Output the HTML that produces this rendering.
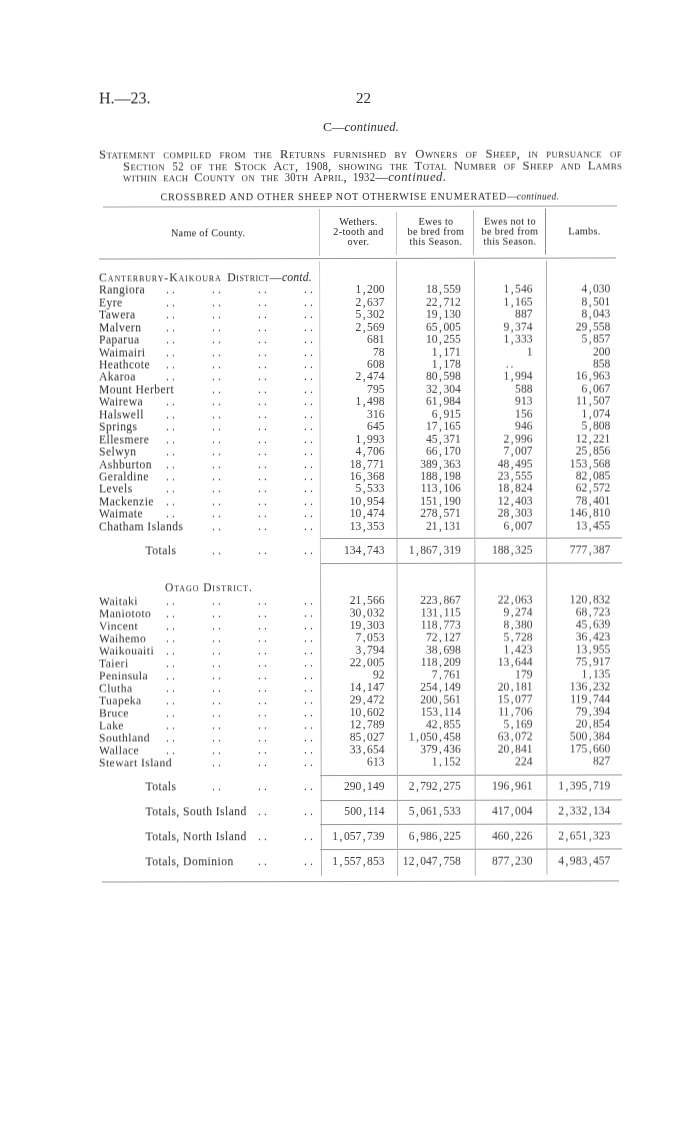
<!DOCTYPE html>
<html><head><meta charset="utf-8"><title>H.-23</title>
<style>
html,body{margin:0;padding:0;background:#fff;}
body{will-change:transform;width:700px;height:1131px;position:relative;overflow:hidden;font-family:"Liberation Serif",serif;color:#2c2c2c;}
#pg{position:absolute;left:0;top:0;width:700px;height:1131px;transform:skewY(-0.12deg);filter:blur(0.3px);transform-origin:350px 565px;}
.a{position:absolute;white-space:nowrap;}
.r{position:absolute;left:0;top:0;transform-origin:350px 7px;width:700px;height:14px;line-height:14px;font-size:11.6px;white-space:nowrap;}
.r span{position:absolute;top:0;}
.n{letter-spacing:0.45px;}
.d{letter-spacing:3.1px;color:#333;}
.v{letter-spacing:0;color:#3c3c3c;transform:scaleY(1.05);transform-origin:100% 10.9px;}
.v i{font-style:normal;display:inline-block;width:5.8px;text-align:center;}
.dd{position:static !important;letter-spacing:2px;margin-right:17px;}
.hl{position:absolute;height:1px;background:#969696;}
.vl{position:absolute;width:1px;background:#b2b2b2;}
.sc{font-variant:small-caps;}
.dg{display:inline-block;transform:scaleX(0.84);transform-origin:0 50%;}
.h{color:#1c1c1c;position:absolute;font-size:10.3px;line-height:10.3px;text-align:center;letter-spacing:0.3px;}
</style></head><body>
<div id="pg">
<div class="a" style="left:99px;top:88px;font-size:16px;line-height:20px;">H.—23.</div>
<div class="a" style="left:356px;top:88px;font-size:15px;line-height:20px;">22</div>
<div class="a" style="left:323px;top:119px;font-size:12.5px;line-height:16px;"><span style="font-size:13.5px">C</span>—<em style="letter-spacing:0.22px">continued.</em></div>
<div class="a sc st" style="left:99px;top:146.7px;width:475.5px;transform:scaleX(1.1);transform-origin:0 0;font-size:11.5px;line-height:14px;text-align:justify;text-align-last:justify;white-space:normal;letter-spacing:0.36px;">Statement compiled from the Returns furnished by Owners of Sheep, in pursuance of</div>
<div class="a sc st" style="left:122.8px;top:158.6px;width:453.9px;transform:scaleX(1.1);transform-origin:0 0;font-size:11.5px;line-height:14px;text-align:justify;text-align-last:justify;white-space:normal;letter-spacing:0.36px;">Section <span class="dg" style="margin-right:-1.95px">52</span> of the Stock Act, <span class="dg" style="margin-right:-3.9px">1908</span>, showing the Total Number of Sheep and Lambs</div>
<div class="a sc st" style="left:123px;top:170px;transform:scaleX(1.1);transform-origin:0 0;font-size:11.5px;line-height:14px;letter-spacing:0.3px;word-spacing:2.2px;">within each County on the <span class="dg" style="margin-right:-1.95px">30</span>th April, <span class="dg" style="margin-right:-3.9px">1932</span>—<em style="font-variant:normal;letter-spacing:0.5px">continued.</em></div>
<div class="a" style="left:160.5px;top:190px;font-size:10.2px;line-height:13px;letter-spacing:0.75px;">CROSSBRED AND OTHER SHEEP NOT OTHERWISE ENUMERATED—<em style="font-size:9.4px;letter-spacing:0.3px;margin-left:-1.2px">continued.</em></div>

<div class="hl" style="left:103px;top:206.4px;width:514px;background:#a2a2a2"></div>
<div class="hl" style="left:99px;top:258.4px;width:517px;"></div>
<div class="hl" style="left:320px;top:538.4px;width:302px;"></div>
<div class="hl" style="left:320px;top:563.4px;width:302px;"></div>
<div class="hl" style="left:320px;top:774.5px;width:302px;"></div>
<div class="hl" style="left:320px;top:799.5px;width:302px;"></div>
<div class="hl" style="left:320px;top:824.4px;width:302px;"></div>
<div class="hl" style="left:320px;top:849.4px;width:302px;"></div>
<div class="hl" style="left:102px;top:881.4px;width:517px;"></div>

<div class="vl" style="left:319.4px;top:209px;height:47px;background:#c4c4c4"></div>
<div class="vl" style="left:396px;top:212px;height:43px;background:#c4c4c4"></div>
<div class="vl" style="left:473.1px;top:210px;height:45px;background:#b4b4b4"></div>
<div class="vl" style="left:545px;top:209px;height:46px;background:#8e8e8e"></div>
<div class="vl" style="left:319px;top:261px;height:615px;transform:rotate(-0.19deg);transform-origin:0 0;background:linear-gradient(#cdcdcd 0,#c6c6c6 45%,#aaa 55%,#b0b0b0 100%)"></div>
<div class="vl" style="left:395.9px;top:261px;height:615px;transform:rotate(-0.1deg);transform-origin:0 0;"></div>
<div class="vl" style="left:473.8px;top:261px;height:615px;transform:rotate(-0.07deg);transform-origin:0 0;"></div>
<div class="vl" style="left:546.3px;top:261px;height:614px;transform:rotate(-0.04deg);transform-origin:0 0;"></div>

<div class="h" style="left:97.6px;width:221px;top:228px;letter-spacing:0.25px">Name of County.</div>
<div class="h" style="left:321px;width:75px;top:216.5px;">Wethers.<br>2-tooth and<br>over.</div>
<div class="h" style="left:398px;width:76px;top:216.5px;">Ewes to<br>be bred from<br>this Season.</div>
<div class="h" style="left:474px;width:72px;top:216.5px;">Ewes not to<br>be bred from<br>this Season.</div>
<div class="h" style="left:549px;width:71px;top:227px;">Lambs.</div>

<div class="a sc" style="left:99px;top:270.1px;font-size:11.8px;line-height:14px;letter-spacing:0.9px;">Canterbury-Kaikoura<span style="letter-spacing:0.45px;margin-left:5.6px">District—</span><em style="font-variant:normal;letter-spacing:0.1px">contd.</em></div>
<div class="a sc" style="left:165px;top:580.3px;font-size:11.5px;line-height:14px;letter-spacing:0.9px;">Otago District.</div>
<div class="r" style="transform:translateY(283.40px)"><span class="n" style="left:99px">Rangiora</span>
<span class="d" style="left:166px">..</span>
<span class="d" style="left:212px">..</span>
<span class="d" style="left:258px">..</span>
<span class="d" style="left:304px">..</span>
<span class="v" style="right:315.5px">1<i>,</i>200</span>
<span class="v" style="right:239.2px">18<i>,</i>559</span>
<span class="v" style="right:167.5px">1<i>,</i>546</span>
<span class="v" style="right:89.6px">4<i>,</i>030</span>
</div>
<div class="r" style="transform:translateY(295.84px)"><span class="n" style="left:99px">Eyre</span>
<span class="d" style="left:166px">..</span>
<span class="d" style="left:212px">..</span>
<span class="d" style="left:258px">..</span>
<span class="d" style="left:304px">..</span>
<span class="v" style="right:315.5px">2<i>,</i>637</span>
<span class="v" style="right:239.2px">22<i>,</i>712</span>
<span class="v" style="right:167.5px">1<i>,</i>165</span>
<span class="v" style="right:89.6px">8<i>,</i>501</span>
</div>
<div class="r" style="transform:translateY(308.28px)"><span class="n" style="left:99px">Tawera</span>
<span class="d" style="left:166px">..</span>
<span class="d" style="left:212px">..</span>
<span class="d" style="left:258px">..</span>
<span class="d" style="left:304px">..</span>
<span class="v" style="right:315.5px">5<i>,</i>302</span>
<span class="v" style="right:239.2px">19<i>,</i>130</span>
<span class="v" style="right:167.5px">887</span>
<span class="v" style="right:89.6px">8<i>,</i>043</span>
</div>
<div class="r" style="transform:translateY(320.72px)"><span class="n" style="left:99px">Malvern</span>
<span class="d" style="left:166px">..</span>
<span class="d" style="left:212px">..</span>
<span class="d" style="left:258px">..</span>
<span class="d" style="left:304px">..</span>
<span class="v" style="right:315.5px">2<i>,</i>569</span>
<span class="v" style="right:239.2px">65<i>,</i>005</span>
<span class="v" style="right:167.5px">9<i>,</i>374</span>
<span class="v" style="right:89.6px">29<i>,</i>558</span>
</div>
<div class="r" style="transform:translateY(333.16px)"><span class="n" style="left:99px">Paparua</span>
<span class="d" style="left:166px">..</span>
<span class="d" style="left:212px">..</span>
<span class="d" style="left:258px">..</span>
<span class="d" style="left:304px">..</span>
<span class="v" style="right:315.5px">681</span>
<span class="v" style="right:239.2px">10<i>,</i>255</span>
<span class="v" style="right:167.5px">1<i>,</i>333</span>
<span class="v" style="right:89.6px">5<i>,</i>857</span>
</div>
<div class="r" style="transform:translateY(345.60px)"><span class="n" style="left:99px">Waimairi</span>
<span class="d" style="left:166px">..</span>
<span class="d" style="left:212px">..</span>
<span class="d" style="left:258px">..</span>
<span class="d" style="left:304px">..</span>
<span class="v" style="right:315.5px">78</span>
<span class="v" style="right:239.2px">1<i>,</i>171</span>
<span class="v" style="right:167.5px">1</span>
<span class="v" style="right:89.6px">200</span>
</div>
<div class="r" style="transform:translateY(358.04px)"><span class="n" style="left:99px">Heathcote</span>
<span class="d" style="left:166px">..</span>
<span class="d" style="left:212px">..</span>
<span class="d" style="left:258px">..</span>
<span class="d" style="left:304px">..</span>
<span class="v" style="right:315.5px">608</span>
<span class="v" style="right:239.2px">1<i>,</i>178</span>
<span class="v" style="right:167.5px"><span class="dd">..</span></span>
<span class="v" style="right:89.6px">858</span>
</div>
<div class="r" style="transform:translateY(370.48px)"><span class="n" style="left:99px">Akaroa</span>
<span class="d" style="left:166px">..</span>
<span class="d" style="left:212px">..</span>
<span class="d" style="left:258px">..</span>
<span class="d" style="left:304px">..</span>
<span class="v" style="right:315.5px">2<i>,</i>474</span>
<span class="v" style="right:239.2px">80<i>,</i>598</span>
<span class="v" style="right:167.5px">1<i>,</i>994</span>
<span class="v" style="right:89.6px">16<i>,</i>963</span>
</div>
<div class="r" style="transform:translateY(382.92px)"><span class="n" style="left:99px">Mount Herbert</span>
<span class="d" style="left:212px">..</span>
<span class="d" style="left:258px">..</span>
<span class="d" style="left:304px">..</span>
<span class="v" style="right:315.5px">795</span>
<span class="v" style="right:239.2px">32<i>,</i>304</span>
<span class="v" style="right:167.5px">588</span>
<span class="v" style="right:89.6px">6<i>,</i>067</span>
</div>
<div class="r" style="transform:translateY(395.36px)"><span class="n" style="left:99px">Wairewa</span>
<span class="d" style="left:166px">..</span>
<span class="d" style="left:212px">..</span>
<span class="d" style="left:258px">..</span>
<span class="d" style="left:304px">..</span>
<span class="v" style="right:315.5px">1<i>,</i>498</span>
<span class="v" style="right:239.2px">61<i>,</i>984</span>
<span class="v" style="right:167.5px">913</span>
<span class="v" style="right:89.6px">11<i>,</i>507</span>
</div>
<div class="r" style="transform:translateY(407.80px)"><span class="n" style="left:99px">Halswell</span>
<span class="d" style="left:166px">..</span>
<span class="d" style="left:212px">..</span>
<span class="d" style="left:258px">..</span>
<span class="d" style="left:304px">..</span>
<span class="v" style="right:315.5px">316</span>
<span class="v" style="right:239.2px">6<i>,</i>915</span>
<span class="v" style="right:167.5px">156</span>
<span class="v" style="right:89.6px">1<i>,</i>074</span>
</div>
<div class="r" style="transform:translateY(420.24px)"><span class="n" style="left:99px">Springs</span>
<span class="d" style="left:166px">..</span>
<span class="d" style="left:212px">..</span>
<span class="d" style="left:258px">..</span>
<span class="d" style="left:304px">..</span>
<span class="v" style="right:315.5px">645</span>
<span class="v" style="right:239.2px">17<i>,</i>165</span>
<span class="v" style="right:167.5px">946</span>
<span class="v" style="right:89.6px">5<i>,</i>808</span>
</div>
<div class="r" style="transform:translateY(432.68px)"><span class="n" style="left:99px">Ellesmere</span>
<span class="d" style="left:166px">..</span>
<span class="d" style="left:212px">..</span>
<span class="d" style="left:258px">..</span>
<span class="d" style="left:304px">..</span>
<span class="v" style="right:315.5px">1<i>,</i>993</span>
<span class="v" style="right:239.2px">45<i>,</i>371</span>
<span class="v" style="right:167.5px">2<i>,</i>996</span>
<span class="v" style="right:89.6px">12<i>,</i>221</span>
</div>
<div class="r" style="transform:translateY(445.12px)"><span class="n" style="left:99px">Selwyn</span>
<span class="d" style="left:166px">..</span>
<span class="d" style="left:212px">..</span>
<span class="d" style="left:258px">..</span>
<span class="d" style="left:304px">..</span>
<span class="v" style="right:315.5px">4<i>,</i>706</span>
<span class="v" style="right:239.2px">66<i>,</i>170</span>
<span class="v" style="right:167.5px">7<i>,</i>007</span>
<span class="v" style="right:89.6px">25<i>,</i>856</span>
</div>
<div class="r" style="transform:translateY(457.56px)"><span class="n" style="left:99px">Ashburton</span>
<span class="d" style="left:166px">..</span>
<span class="d" style="left:212px">..</span>
<span class="d" style="left:258px">..</span>
<span class="d" style="left:304px">..</span>
<span class="v" style="right:315.5px">18<i>,</i>771</span>
<span class="v" style="right:239.2px">389<i>,</i>363</span>
<span class="v" style="right:167.5px">48<i>,</i>495</span>
<span class="v" style="right:89.6px">153<i>,</i>568</span>
</div>
<div class="r" style="transform:translateY(470.00px)"><span class="n" style="left:99px">Geraldine</span>
<span class="d" style="left:166px">..</span>
<span class="d" style="left:212px">..</span>
<span class="d" style="left:258px">..</span>
<span class="d" style="left:304px">..</span>
<span class="v" style="right:315.5px">16<i>,</i>368</span>
<span class="v" style="right:239.2px">188<i>,</i>198</span>
<span class="v" style="right:167.5px">23<i>,</i>555</span>
<span class="v" style="right:89.6px">82<i>,</i>085</span>
</div>
<div class="r" style="transform:translateY(482.44px)"><span class="n" style="left:99px">Levels</span>
<span class="d" style="left:166px">..</span>
<span class="d" style="left:212px">..</span>
<span class="d" style="left:258px">..</span>
<span class="d" style="left:304px">..</span>
<span class="v" style="right:315.5px">5<i>,</i>533</span>
<span class="v" style="right:239.2px">113<i>,</i>106</span>
<span class="v" style="right:167.5px">18<i>,</i>824</span>
<span class="v" style="right:89.6px">62<i>,</i>572</span>
</div>
<div class="r" style="transform:translateY(494.88px)"><span class="n" style="left:99px">Mackenzie</span>
<span class="d" style="left:166px">..</span>
<span class="d" style="left:212px">..</span>
<span class="d" style="left:258px">..</span>
<span class="d" style="left:304px">..</span>
<span class="v" style="right:315.5px">10<i>,</i>954</span>
<span class="v" style="right:239.2px">151<i>,</i>190</span>
<span class="v" style="right:167.5px">12<i>,</i>403</span>
<span class="v" style="right:89.6px">78<i>,</i>401</span>
</div>
<div class="r" style="transform:translateY(507.32px)"><span class="n" style="left:99px">Waimate</span>
<span class="d" style="left:166px">..</span>
<span class="d" style="left:212px">..</span>
<span class="d" style="left:258px">..</span>
<span class="d" style="left:304px">..</span>
<span class="v" style="right:315.5px">10<i>,</i>474</span>
<span class="v" style="right:239.2px">278<i>,</i>571</span>
<span class="v" style="right:167.5px">28<i>,</i>303</span>
<span class="v" style="right:89.6px">146<i>,</i>810</span>
</div>
<div class="r" style="transform:translateY(519.76px)"><span class="n" style="left:99px">Chatham Islands</span>
<span class="d" style="left:212px">..</span>
<span class="d" style="left:258px">..</span>
<span class="d" style="left:304px">..</span>
<span class="v" style="right:315.5px">13<i>,</i>353</span>
<span class="v" style="right:239.2px">21<i>,</i>131</span>
<span class="v" style="right:167.5px">6<i>,</i>007</span>
<span class="v" style="right:89.6px">13<i>,</i>455</span>
</div>
<div class="r" style="transform:translateY(594.10px) skewY(-0.07deg)"><span class="n" style="left:99px">Waitaki</span>
<span class="d" style="left:166px">..</span>
<span class="d" style="left:212px">..</span>
<span class="d" style="left:258px">..</span>
<span class="d" style="left:304px">..</span>
<span class="v" style="right:315.5px">21<i>,</i>566</span>
<span class="v" style="right:239.2px">223<i>,</i>867</span>
<span class="v" style="right:167.5px">22<i>,</i>063</span>
<span class="v" style="right:89.6px">120<i>,</i>832</span>
</div>
<div class="r" style="transform:translateY(606.53px) skewY(-0.07deg)"><span class="n" style="left:99px">Maniototo</span>
<span class="d" style="left:166px">..</span>
<span class="d" style="left:212px">..</span>
<span class="d" style="left:258px">..</span>
<span class="d" style="left:304px">..</span>
<span class="v" style="right:315.5px">30<i>,</i>032</span>
<span class="v" style="right:239.2px">131<i>,</i>115</span>
<span class="v" style="right:167.5px">9<i>,</i>274</span>
<span class="v" style="right:89.6px">68<i>,</i>723</span>
</div>
<div class="r" style="transform:translateY(618.96px) skewY(-0.07deg)"><span class="n" style="left:99px">Vincent</span>
<span class="d" style="left:166px">..</span>
<span class="d" style="left:212px">..</span>
<span class="d" style="left:258px">..</span>
<span class="d" style="left:304px">..</span>
<span class="v" style="right:315.5px">19<i>,</i>303</span>
<span class="v" style="right:239.2px">118<i>,</i>773</span>
<span class="v" style="right:167.5px">8<i>,</i>380</span>
<span class="v" style="right:89.6px">45<i>,</i>639</span>
</div>
<div class="r" style="transform:translateY(631.39px) skewY(-0.07deg)"><span class="n" style="left:99px">Waihemo</span>
<span class="d" style="left:166px">..</span>
<span class="d" style="left:212px">..</span>
<span class="d" style="left:258px">..</span>
<span class="d" style="left:304px">..</span>
<span class="v" style="right:315.5px">7<i>,</i>053</span>
<span class="v" style="right:239.2px">72<i>,</i>127</span>
<span class="v" style="right:167.5px">5<i>,</i>728</span>
<span class="v" style="right:89.6px">36<i>,</i>423</span>
</div>
<div class="r" style="transform:translateY(643.82px) skewY(-0.07deg)"><span class="n" style="left:99px">Waikouaiti</span>
<span class="d" style="left:166px">..</span>
<span class="d" style="left:212px">..</span>
<span class="d" style="left:258px">..</span>
<span class="d" style="left:304px">..</span>
<span class="v" style="right:315.5px">3<i>,</i>794</span>
<span class="v" style="right:239.2px">38<i>,</i>698</span>
<span class="v" style="right:167.5px">1<i>,</i>423</span>
<span class="v" style="right:89.6px">13<i>,</i>955</span>
</div>
<div class="r" style="transform:translateY(656.25px) skewY(-0.07deg)"><span class="n" style="left:99px">Taieri</span>
<span class="d" style="left:166px">..</span>
<span class="d" style="left:212px">..</span>
<span class="d" style="left:258px">..</span>
<span class="d" style="left:304px">..</span>
<span class="v" style="right:315.5px">22<i>,</i>005</span>
<span class="v" style="right:239.2px">118<i>,</i>209</span>
<span class="v" style="right:167.5px">13<i>,</i>644</span>
<span class="v" style="right:89.6px">75<i>,</i>917</span>
</div>
<div class="r" style="transform:translateY(668.68px) skewY(-0.07deg)"><span class="n" style="left:99px">Peninsula</span>
<span class="d" style="left:166px">..</span>
<span class="d" style="left:212px">..</span>
<span class="d" style="left:258px">..</span>
<span class="d" style="left:304px">..</span>
<span class="v" style="right:315.5px">92</span>
<span class="v" style="right:239.2px">7<i>,</i>761</span>
<span class="v" style="right:167.5px">179</span>
<span class="v" style="right:89.6px">1<i>,</i>135</span>
</div>
<div class="r" style="transform:translateY(681.11px) skewY(-0.07deg)"><span class="n" style="left:99px">Clutha</span>
<span class="d" style="left:166px">..</span>
<span class="d" style="left:212px">..</span>
<span class="d" style="left:258px">..</span>
<span class="d" style="left:304px">..</span>
<span class="v" style="right:315.5px">14<i>,</i>147</span>
<span class="v" style="right:239.2px">254<i>,</i>149</span>
<span class="v" style="right:167.5px">20<i>,</i>181</span>
<span class="v" style="right:89.6px">136<i>,</i>232</span>
</div>
<div class="r" style="transform:translateY(693.54px) skewY(-0.07deg)"><span class="n" style="left:99px">Tuapeka</span>
<span class="d" style="left:166px">..</span>
<span class="d" style="left:212px">..</span>
<span class="d" style="left:258px">..</span>
<span class="d" style="left:304px">..</span>
<span class="v" style="right:315.5px">29<i>,</i>472</span>
<span class="v" style="right:239.2px">200<i>,</i>561</span>
<span class="v" style="right:167.5px">15<i>,</i>077</span>
<span class="v" style="right:89.6px">119<i>,</i>744</span>
</div>
<div class="r" style="transform:translateY(705.97px) skewY(-0.07deg)"><span class="n" style="left:99px">Bruce</span>
<span class="d" style="left:166px">..</span>
<span class="d" style="left:212px">..</span>
<span class="d" style="left:258px">..</span>
<span class="d" style="left:304px">..</span>
<span class="v" style="right:315.5px">10<i>,</i>602</span>
<span class="v" style="right:239.2px">153<i>,</i>114</span>
<span class="v" style="right:167.5px">11<i>,</i>706</span>
<span class="v" style="right:89.6px">79<i>,</i>394</span>
</div>
<div class="r" style="transform:translateY(718.40px) skewY(-0.07deg)"><span class="n" style="left:99px">Lake</span>
<span class="d" style="left:166px">..</span>
<span class="d" style="left:212px">..</span>
<span class="d" style="left:258px">..</span>
<span class="d" style="left:304px">..</span>
<span class="v" style="right:315.5px">12<i>,</i>789</span>
<span class="v" style="right:239.2px">42<i>,</i>855</span>
<span class="v" style="right:167.5px">5<i>,</i>169</span>
<span class="v" style="right:89.6px">20<i>,</i>854</span>
</div>
<div class="r" style="transform:translateY(730.83px) skewY(-0.07deg)"><span class="n" style="left:99px">Southland</span>
<span class="d" style="left:166px">..</span>
<span class="d" style="left:212px">..</span>
<span class="d" style="left:258px">..</span>
<span class="d" style="left:304px">..</span>
<span class="v" style="right:315.5px">85<i>,</i>027</span>
<span class="v" style="right:239.2px">1<i>,</i>050<i>,</i>458</span>
<span class="v" style="right:167.5px">63<i>,</i>072</span>
<span class="v" style="right:89.6px">500<i>,</i>384</span>
</div>
<div class="r" style="transform:translateY(743.26px) skewY(-0.07deg)"><span class="n" style="left:99px">Wallace</span>
<span class="d" style="left:166px">..</span>
<span class="d" style="left:212px">..</span>
<span class="d" style="left:258px">..</span>
<span class="d" style="left:304px">..</span>
<span class="v" style="right:315.5px">33<i>,</i>654</span>
<span class="v" style="right:239.2px">379<i>,</i>436</span>
<span class="v" style="right:167.5px">20<i>,</i>841</span>
<span class="v" style="right:89.6px">175<i>,</i>660</span>
</div>
<div class="r" style="transform:translateY(755.69px) skewY(-0.07deg)"><span class="n" style="left:99px">Stewart Island</span>
<span class="d" style="left:212px">..</span>
<span class="d" style="left:258px">..</span>
<span class="d" style="left:304px">..</span>
<span class="v" style="right:315.5px">613</span>
<span class="v" style="right:239.2px">1<i>,</i>152</span>
<span class="v" style="right:167.5px">224</span>
<span class="v" style="right:89.6px">827</span>
</div>
<div class="r" style="transform:translateY(544.20px)"><span class="n" style="left:145.5px">Totals</span>
<span class="d" style="left:212px">..</span>
<span class="d" style="left:258px">..</span>
<span class="d" style="left:304px">..</span>
<span class="v" style="right:315.5px">134<i>,</i>743</span>
<span class="v" style="right:239.2px">1<i>,</i>867<i>,</i>319</span>
<span class="v" style="right:167.5px">188<i>,</i>325</span>
<span class="v" style="right:89.6px">777<i>,</i>387</span>
</div>
<div class="r" style="transform:translateY(780.10px)"><span class="n" style="left:145.5px">Totals</span>
<span class="d" style="left:212px">..</span>
<span class="d" style="left:258px">..</span>
<span class="d" style="left:304px">..</span>
<span class="v" style="right:315.5px">290<i>,</i>149</span>
<span class="v" style="right:239.2px">2<i>,</i>792<i>,</i>275</span>
<span class="v" style="right:167.5px">196<i>,</i>961</span>
<span class="v" style="right:89.6px">1<i>,</i>395<i>,</i>719</span>
</div>
<div class="r" style="transform:translateY(805.40px)"><span class="n" style="left:145.5px">Totals, South Island</span>
<span class="d" style="left:258px">..</span>
<span class="d" style="left:304px">..</span>
<span class="v" style="right:315.5px">500<i>,</i>114</span>
<span class="v" style="right:239.2px">5<i>,</i>061<i>,</i>533</span>
<span class="v" style="right:167.5px">417<i>,</i>004</span>
<span class="v" style="right:89.6px">2<i>,</i>332<i>,</i>134</span>
</div>
<div class="r" style="transform:translateY(830.10px)"><span class="n" style="left:145.5px">Totals, North Island</span>
<span class="d" style="left:258px">..</span>
<span class="d" style="left:304px">..</span>
<span class="v" style="right:315.5px">1<i>,</i>057<i>,</i>739</span>
<span class="v" style="right:239.2px">6<i>,</i>986<i>,</i>225</span>
<span class="v" style="right:167.5px">460<i>,</i>226</span>
<span class="v" style="right:89.6px">2<i>,</i>651<i>,</i>323</span>
</div>
<div class="r" style="transform:translateY(855.10px)"><span class="n" style="left:145.5px">Totals, Dominion</span>
<span class="d" style="left:258px">..</span>
<span class="d" style="left:304px">..</span>
<span class="v" style="right:315.5px">1<i>,</i>557<i>,</i>853</span>
<span class="v" style="right:239.2px">12<i>,</i>047<i>,</i>758</span>
<span class="v" style="right:167.5px">877<i>,</i>230</span>
<span class="v" style="right:89.6px">4<i>,</i>983<i>,</i>457</span>
</div>
</div>
</body></html>
